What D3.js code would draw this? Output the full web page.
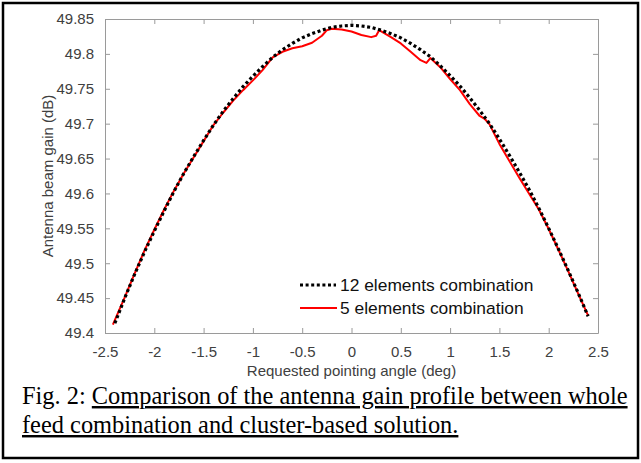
<!DOCTYPE html>
<html>
<head>
<meta charset="utf-8">
<script src="https://cdn.jsdelivr.net/npm/d3@7"></script>
<style>
  html, body { margin: 0; padding: 0; background: #fff; }
  svg { display: block; }
</style>
</head>
<body>
<svg id="chart" width="641" height="463"></svg>
<script>
// ---- Data ----
const xTicks = [-2.5, -2, -1.5, -1, -0.5, 0, 0.5, 1, 1.5, 2, 2.5];
const yTicks = [49.4, 49.45, 49.5, 49.55, 49.6, 49.65, 49.7, 49.75, 49.8, 49.85];

const angle12 = [-2.4, -2.3, -2.2, -2.1, -2.0, -1.9, -1.8, -1.7, -1.6, -1.5, -1.4, -1.3, -1.2, -1.1, -1.0,
  -0.9, -0.8, -0.7, -0.6, -0.5, -0.4, -0.3, -0.2, -0.1, 0, 0.1, 0.2, 0.3, 0.4, 0.5, 0.6, 0.7, 0.8, 0.9,
  1.0, 1.1, 1.2, 1.3, 1.4, 1.5, 1.6, 1.7, 1.8, 1.9, 2.0, 2.1, 2.2, 2.3, 2.4];
const gain12 = [49.414, 49.450, 49.484, 49.516, 49.546, 49.575, 49.603, 49.629, 49.653, 49.676, 49.698,
  49.718, 49.736, 49.753, 49.768, 49.782, 49.795, 49.806, 49.815, 49.823, 49.829, 49.834, 49.838, 49.840,
  49.841, 49.840, 49.838, 49.834, 49.829, 49.823, 49.815, 49.806, 49.796, 49.783, 49.769, 49.754, 49.737,
  49.719, 49.700, 49.678, 49.655, 49.631, 49.606, 49.579, 49.550, 49.520, 49.489, 49.457, 49.424];

const angle5 = [-2.42, -2.3, -2.2, -2.1, -2.0, -1.9, -1.8, -1.7, -1.6, -1.5, -1.4, -1.3, -1.2, -1.1, -1.0,
  -0.9, -0.8, -0.7, -0.6, -0.5, -0.4, -0.3, -0.25, -0.2, -0.1, 0, 0.1, 0.2, 0.25, 0.28, 0.4, 0.5, 0.6,
  0.7, 0.76, 0.8, 0.9, 1.0, 1.1, 1.2, 1.3, 1.35, 1.4, 1.5, 1.6, 1.7, 1.8, 1.9, 2.0, 2.1, 2.2, 2.3, 2.4];
const gain5 = [49.412, 49.451, 49.485, 49.518, 49.548, 49.577, 49.604, 49.629, 49.652, 49.675, 49.698,
  49.716, 49.733, 49.748, 49.762, 49.777, 49.795, 49.803, 49.808, 49.811, 49.816, 49.826, 49.834, 49.836,
  49.835, 49.832, 49.827, 49.824, 49.826, 49.834, 49.824, 49.815, 49.803, 49.791, 49.787, 49.794, 49.781,
  49.764, 49.748, 49.728, 49.711, 49.707, 49.699, 49.671, 49.647, 49.623, 49.600, 49.577, 49.549, 49.519,
  49.488, 49.456, 49.425];

const seriesNames = ["12 elements combination", "5 elements combination"];
const yLabel = "Antenna beam gain (dB)";
const xLabel = "Requested pointing angle (deg)";
const captionPrefix = "Fig. 2: ";
const captionLine1 = "Comparison of the antenna gain profile between whole";
const captionLine2 = "feed combination and cluster-based solution.";

// ---- Layout ----
const svg = d3.select("#chart");
const L = 105, R = 598, T = 19, B = 333;
const x = d3.scaleLinear().domain([-2.5, 2.5]).range([L, R]);
const y = d3.scaleLinear().domain([49.4, 49.85]).range([B, T]);

const axisColor = "#9a9a9a";
const textColor = "#404040";
const sans = "'Liberation Sans', Arial, Helvetica, sans-serif";

// outer frame
svg.append("rect").attr("x", 3).attr("y", 3).attr("width", 635).attr("height", 455)
  .attr("fill", "none").attr("stroke", "#000").attr("stroke-width", 2.5);

// axes (MATLAB-like box with inward ticks)
function styleAxis(g) {
  g.selectAll("path.domain").attr("stroke", axisColor);
  g.selectAll(".tick line").attr("stroke", axisColor);
  g.selectAll(".tick text").attr("fill", textColor).style("font-family", sans).style("font-size", "15px");
}
const tickLen = 5;
svg.append("g").attr("transform", `translate(0,${B})`)
  .call(d3.axisBottom(x).tickValues(xTicks).tickSizeInner(-tickLen).tickSizeOuter(0).tickPadding(13)
    .tickFormat(d => String(d)))
  .call(styleAxis);
svg.append("g").attr("transform", `translate(0,${T})`)
  .call(d3.axisTop(x).tickValues(xTicks).tickSizeInner(-tickLen).tickSizeOuter(0).tickFormat(""))
  .call(styleAxis);
svg.append("g").attr("transform", `translate(${L},0)`)
  .call(d3.axisLeft(y).tickValues(yTicks).tickSizeInner(-tickLen).tickSizeOuter(0).tickPadding(11)
    .tickFormat(d => String(+d.toFixed(2))))
  .call(styleAxis);
svg.append("g").attr("transform", `translate(${R},0)`)
  .call(d3.axisRight(y).tickValues(yTicks).tickSizeInner(-tickLen).tickSizeOuter(0).tickFormat(""))
  .call(styleAxis);

// axis labels
svg.append("text").attr("x", (L + R) / 2).attr("y", 376).attr("text-anchor", "middle")
  .attr("fill", textColor).style("font-family", sans).style("font-size", "15px").text(xLabel);
svg.append("text").attr("transform", `translate(53,${(T + B) / 2}) rotate(-90)`).attr("text-anchor", "middle")
  .attr("fill", textColor).style("font-family", sans).style("font-size", "15px").text(yLabel);

// lines
const line = d3.line().x(d => x(d[0])).y(d => y(d[1])).curve(d3.curveLinear);
const d12 = angle12.map((a, i) => [a, gain12[i]]);
const d5 = angle5.map((a, i) => [a, gain5[i]]);

svg.append("path").datum(d5).attr("d", line).attr("fill", "none")
  .attr("stroke", "#ff0000").attr("stroke-width", 2).attr("stroke-linejoin", "round");
svg.append("path").datum(d12).attr("d", line).attr("fill", "none")
  .attr("stroke", "#000").attr("stroke-width", 3.2).attr("stroke-dasharray", "3,2.6");

// legend
const lg = svg.append("g");
lg.append("line").attr("x1", 300).attr("x2", 336).attr("y1", 285).attr("y2", 285)
  .attr("stroke", "#000").attr("stroke-width", 3.2).attr("stroke-dasharray", "3,2.6");
lg.append("line").attr("x1", 300).attr("x2", 337).attr("y1", 308).attr("y2", 308)
  .attr("stroke", "#ff0000").attr("stroke-width", 2);
lg.append("text").attr("x", 340).attr("y", 291).attr("fill", "#111")
  .style("font-family", sans).style("font-size", "17.4px").text(seriesNames[0]);
lg.append("text").attr("x", 340).attr("y", 314).attr("fill", "#111")
  .style("font-family", sans).style("font-size", "17.4px").text(seriesNames[1]);

// caption
const serif = "'Liberation Serif', 'Times New Roman', serif";
const c1 = svg.append("text").attr("x", 22).attr("y", 404)
  .style("font-family", serif).style("font-size", "24.4px").attr("fill", "#000");
c1.append("tspan").text(captionPrefix);
c1.append("tspan").style("text-decoration", "underline").text(captionLine1);
svg.append("text").attr("x", 22).attr("y", 433)
  .style("font-family", serif).style("font-size", "24.4px").attr("fill", "#000")
  .style("text-decoration", "underline").text(captionLine2);
</script>
</body>
</html>
